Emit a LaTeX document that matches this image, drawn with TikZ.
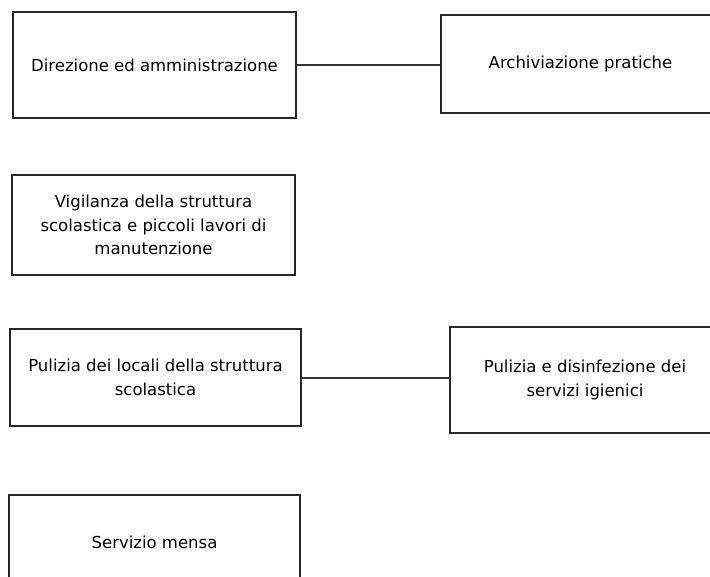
\documentclass[tikz,border=0pt]{standalone}
\usepackage{fontspec}
\setmainfont{DejaVu Sans}
\begin{document}
\begin{tikzpicture}[x=1pt,y=-1pt,
  box/.style={draw=black!85, line width=1.5pt, fill=white, align=center, inner sep=0pt,
    font=\fontsize{16.5}{23.5}\selectfont, text=black},
  link/.style={draw=black!80, line width=1.4pt}]
\useasboundingbox (0,0) rectangle (710,577);
\clip (0,0) rectangle (710,577);
\fill[white] (0,0) rectangle (710,577);
\node[box, minimum width=283pt, minimum height=106pt] (dir) at (154.5,65) {Direzione ed amministrazione};
\node[box, minimum width=279pt, minimum height=98pt] (arc) at (580.5,64) {Archiviazione pratiche};
\node[box, minimum width=283pt, minimum height=100pt] (vig) at (153.5,225) {Vigilanza della struttura\\scolastica e piccoli lavori di\\manutenzione};
\node[box, minimum width=291pt, minimum height=97pt] (pul) at (155.5,377.5) {Pulizia dei locali della struttura\\scolastica};
\node[box, minimum width=270pt, minimum height=106pt] (dis) at (585,380) {Pulizia e disinfezione dei\\servizi igienici};
\node[box, minimum width=291pt, minimum height=95pt] (men) at (154.5,542.5) {Servizio mensa};
\draw[link] (dir.east |- 0,65) -- (arc.west |- 0,65);
\draw[link] (pul.east |- 0,378) -- (dis.west |- 0,378);
\end{tikzpicture}
\end{document}
